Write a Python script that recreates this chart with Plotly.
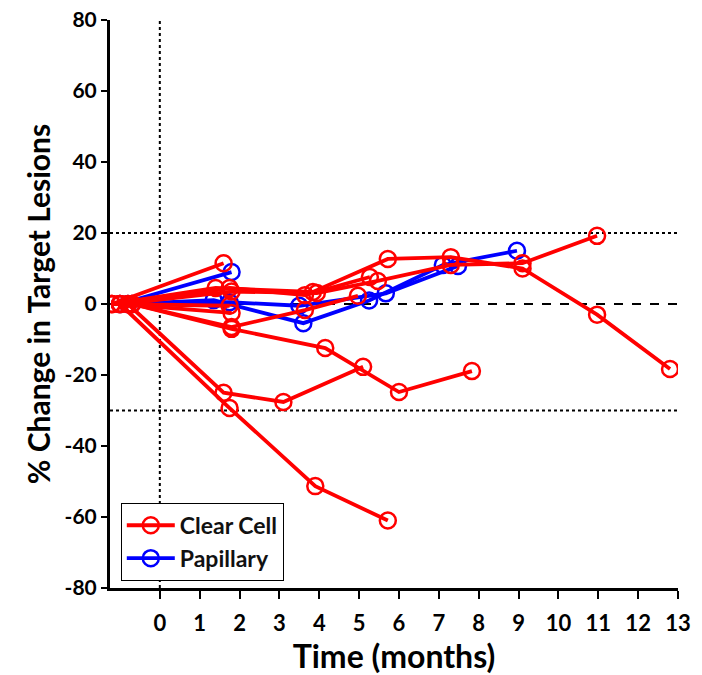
import plotly.graph_objects as go

# Clear cell series (time in months, % change)
clear_t = [
    [-1.2, 1.6],
    [-1.0, 1.75, 3.9, 5.72],
    [-0.8, 1.6, 3.1, 5.1],
    [-0.7, 1.8, 4.15, 6.0, 7.83],
    [-1.2, 1.4, 3.84, 5.72, 7.3, 9.1, 10.97, 12.8],
    [-1.0, 1.8, 3.94, 5.47, 7.3, 9.1, 10.97],
    [-0.8, 1.75, 3.64, 5.27],
    [-0.7, 1.8, 3.64, 4.97],
    [-1.2, 1.75],
    [-1.0, 1.8],
]
clear_v = [
    [0, 11.5],
    [0, -29.3, -51.3, -61],
    [0, -25, -27.6, -17.7],
    [0, -7, -12.4, -24.8, -18.9],
    [0, 4.5, 3.4, 12.7, 13.2, 10, -3, -18.3],
    [0, 3.5, 3.1, 6.5, 11, 11.5, 19.2],
    [0, 4.5, 2.5, 7.6],
    [0, -6.5, -1.7, 2.3],
    [0, -0.5],
    [0, -2.5],
]
# Papillary series
pap_t = [
    [-1.0, 1.8],
    [-0.8, 1.35, 3.6, 5.25, 7.1, 8.96],
    [-0.7, 1.75, 3.5, 5.67, 7.48],
]
pap_v = [
    [0, 9],
    [0, 1.1, -5.4, 1, 11, 15],
    [0, 0.5, -0.5, 3, 10.7],
]
x_ticks = list(range(0, 14))
y_ticks = list(range(-80, 81, 20))

FONT = "Lato"
fig = go.Figure()

# reference lines
for yv, dash in [(20, "dot"), (-30, "dot"), (0, "dash")]:
    fig.add_shape(type="line", xref="paper", x0=0, x1=1, y0=yv, y1=yv,
                  line=dict(color="black", width=2, dash=dash), layer="below")
fig.add_shape(type="line", x0=0, x1=0, yref="paper", y0=0, y1=1,
              line=dict(color="black", width=2, dash="dot"), layer="below")

def add_group(ts, vs, name, color):
    for i, (t, v) in enumerate(zip(ts, vs)):
        fig.add_trace(go.Scatter(
            x=t, y=v, mode="lines+markers", name=name, legendgroup=name,
            showlegend=(i == 0),
            line=dict(color=color, width=3.8),
            marker=dict(symbol="circle-open", size=16, color=color,
                        line=dict(width=2.5, color=color)),
        ))

add_group(pap_t, pap_v, "<b>Papillary</b>", "#0000ff")
add_group(clear_t, clear_v, "<b>Clear Cell</b>", "#ff0000")

fig.update_layout(
    width=702, height=675,
    margin=dict(l=110, r=24, t=20, b=87),
    plot_bgcolor="white", paper_bgcolor="white",
    font=dict(family=FONT, color="black"),
    legend=dict(x=0.019, y=0.15, xanchor="left", yanchor="top",
                traceorder="reversed",
                bordercolor="black", borderwidth=1, bgcolor="white",
                font=dict(family=FONT, size=23, color="#111"),
                itemwidth=48, tracegroupgap=2),
    xaxis=dict(range=[-1.25, 13], tickvals=x_ticks, ticktext=[str(v) for v in x_ticks],
               showgrid=False, zeroline=False, showline=True, linecolor="black",
               linewidth=3, ticks="outside", ticklen=8, tickwidth=2, tickcolor="black",
               ticklabelstandoff=6, automargin=False, ticklabeloverflow="allow",
               tickfont=dict(family=FONT, size=22, weight="bold"),
               title=dict(text="<b>Time (months)</b>", font=dict(family=FONT, size=32),
                          standoff=0)),
    yaxis=dict(range=[-80, 80], tickvals=y_ticks, ticktext=[str(v) for v in y_ticks],
               showgrid=False, zeroline=False, showline=True, linecolor="black",
               linewidth=3, ticks="outside", ticklen=6, tickwidth=2, tickcolor="black",
               automargin=False, ticklabeloverflow="allow",
               tickfont=dict(family=FONT, size=21, weight="bold"),
               title=dict(text="<b>% Change in Target Lesions</b>",
                          font=dict(family=FONT, size=30), standoff=6)),
)

fig.write_html("out.html", config={"displayModeBar": False},
               post_script="document.body.style.margin='0';document.body.style.overflow='hidden';")
